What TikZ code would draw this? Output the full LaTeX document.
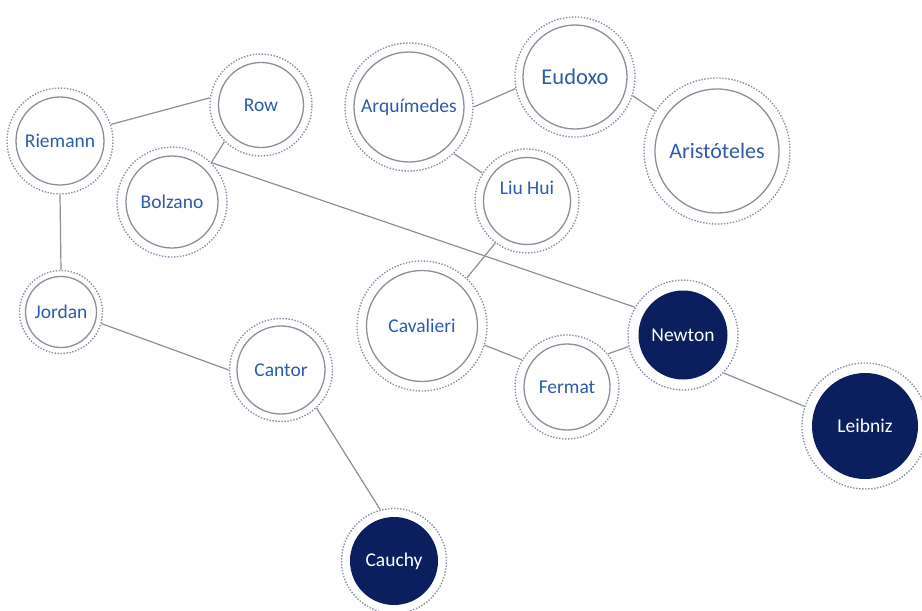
\documentclass[tikz,border=0pt]{standalone}
\usepackage{fontspec}
\setmainfont{Carlito}
\definecolor{txtblue}{HTML}{2B5BAA}
\definecolor{navy}{HTML}{0B1F5E}
\definecolor{ringgray}{HTML}{8E8E96}
\definecolor{dotgray}{HTML}{8A8EA6}
\tikzset{
  mathnode/.style 2 args={circle, draw=dotgray, dash pattern=on 1.4pt off 1.6pt, line width=1.4pt,
    minimum size=#1, inner sep=0pt, text=txtblue, font=\fontsize{19.5}{22}\selectfont,
    path picture={\draw[solid,ringgray,line width=1.3pt] (path picture bounding box.center) circle[radius=#2];}},
  darknode/.style 2 args={mathnode={#1}{#2}, text=white,
    path picture={\fill[navy] (path picture bounding box.center) circle[radius=#2];}},
  link/.style={ringgray, line width=1.2pt}
}
\begin{document}
\begin{tikzpicture}[x=1pt,y=-1pt]
        \useasboundingbox (0,0) rectangle (922,611);
        \node[mathnode={106pt}{44pt}] (riemann) at (60,141) {Riemann};
        \node[mathnode={102pt}{42.5pt}] (row) at (261,105) {Row};
        \node[mathnode={110pt}{46pt}] (bolzano) at (172,202) {Bolzano};
        \node[mathnode={83pt}{35.5pt}] (jordan) at (61,312) {Jordan};
        \node[mathnode={103pt}{44pt}] (cantor) at (281,370) {Cantor};
        \node[darknode={105pt}{44pt}] (cauchy) at (394,561) {Cauchy};
        \node[mathnode={128pt}{55pt}] (arquimedes) at (409,107) {Arquímedes};
        \node[mathnode={120pt}{52pt},font=\fontsize{22.5}{25}\selectfont] (eudoxo) at (575,77) {Eudoxo};
        \node[mathnode={146pt}{62pt},font=\fontsize{22}{25}\selectfont] (aristoteles) at (717,151) {Aristóteles};
        \node[mathnode={104pt}{43.5pt},label={[text=txtblue,font=\fontsize{19.5}{22}\selectfont,yshift=13pt]center:Liu Hui}] (liuhui) at (527,201) {};
        \node[mathnode={130pt}{55.5pt}] (cavalieri) at (422,326) {Cavalieri};
        \node[mathnode={104pt}{43pt}] (fermat) at (567,387) {Fermat};
        \node[darknode={110pt}{44.5pt}] (newton) at (683,335) {Newton};
        \node[darknode={126pt}{53pt}] (leibniz) at (865,426) {Leibniz};
        % connections
        \draw[link] (riemann.18) -- (row.172);
        \draw[link] (riemann.south) -- (jordan.north);
        \draw[link] (row.225) -- (bolzano.45);
        \draw[link] (bolzano.45) -- (newton.150);
        \draw[link] (jordan.-16) -- (cantor.west);
        \draw[link] (cantor.-47) -- (cauchy.105);
        \draw[link] (arquimedes.east) -- (eudoxo.191);
        \draw[link] (eudoxo.-18) -- (aristoteles.147);
        \draw[link] (arquimedes.-46) -- (liuhui.148);
        \draw[link] (liuhui.233) -- (cavalieri.47);
        \draw[link] (cavalieri.-17) -- (fermat.149);
        \draw[link] (fermat.39) -- (newton.192);
        \draw[link] (newton.-43) -- (leibniz.162);
\end{tikzpicture}
\end{document}
